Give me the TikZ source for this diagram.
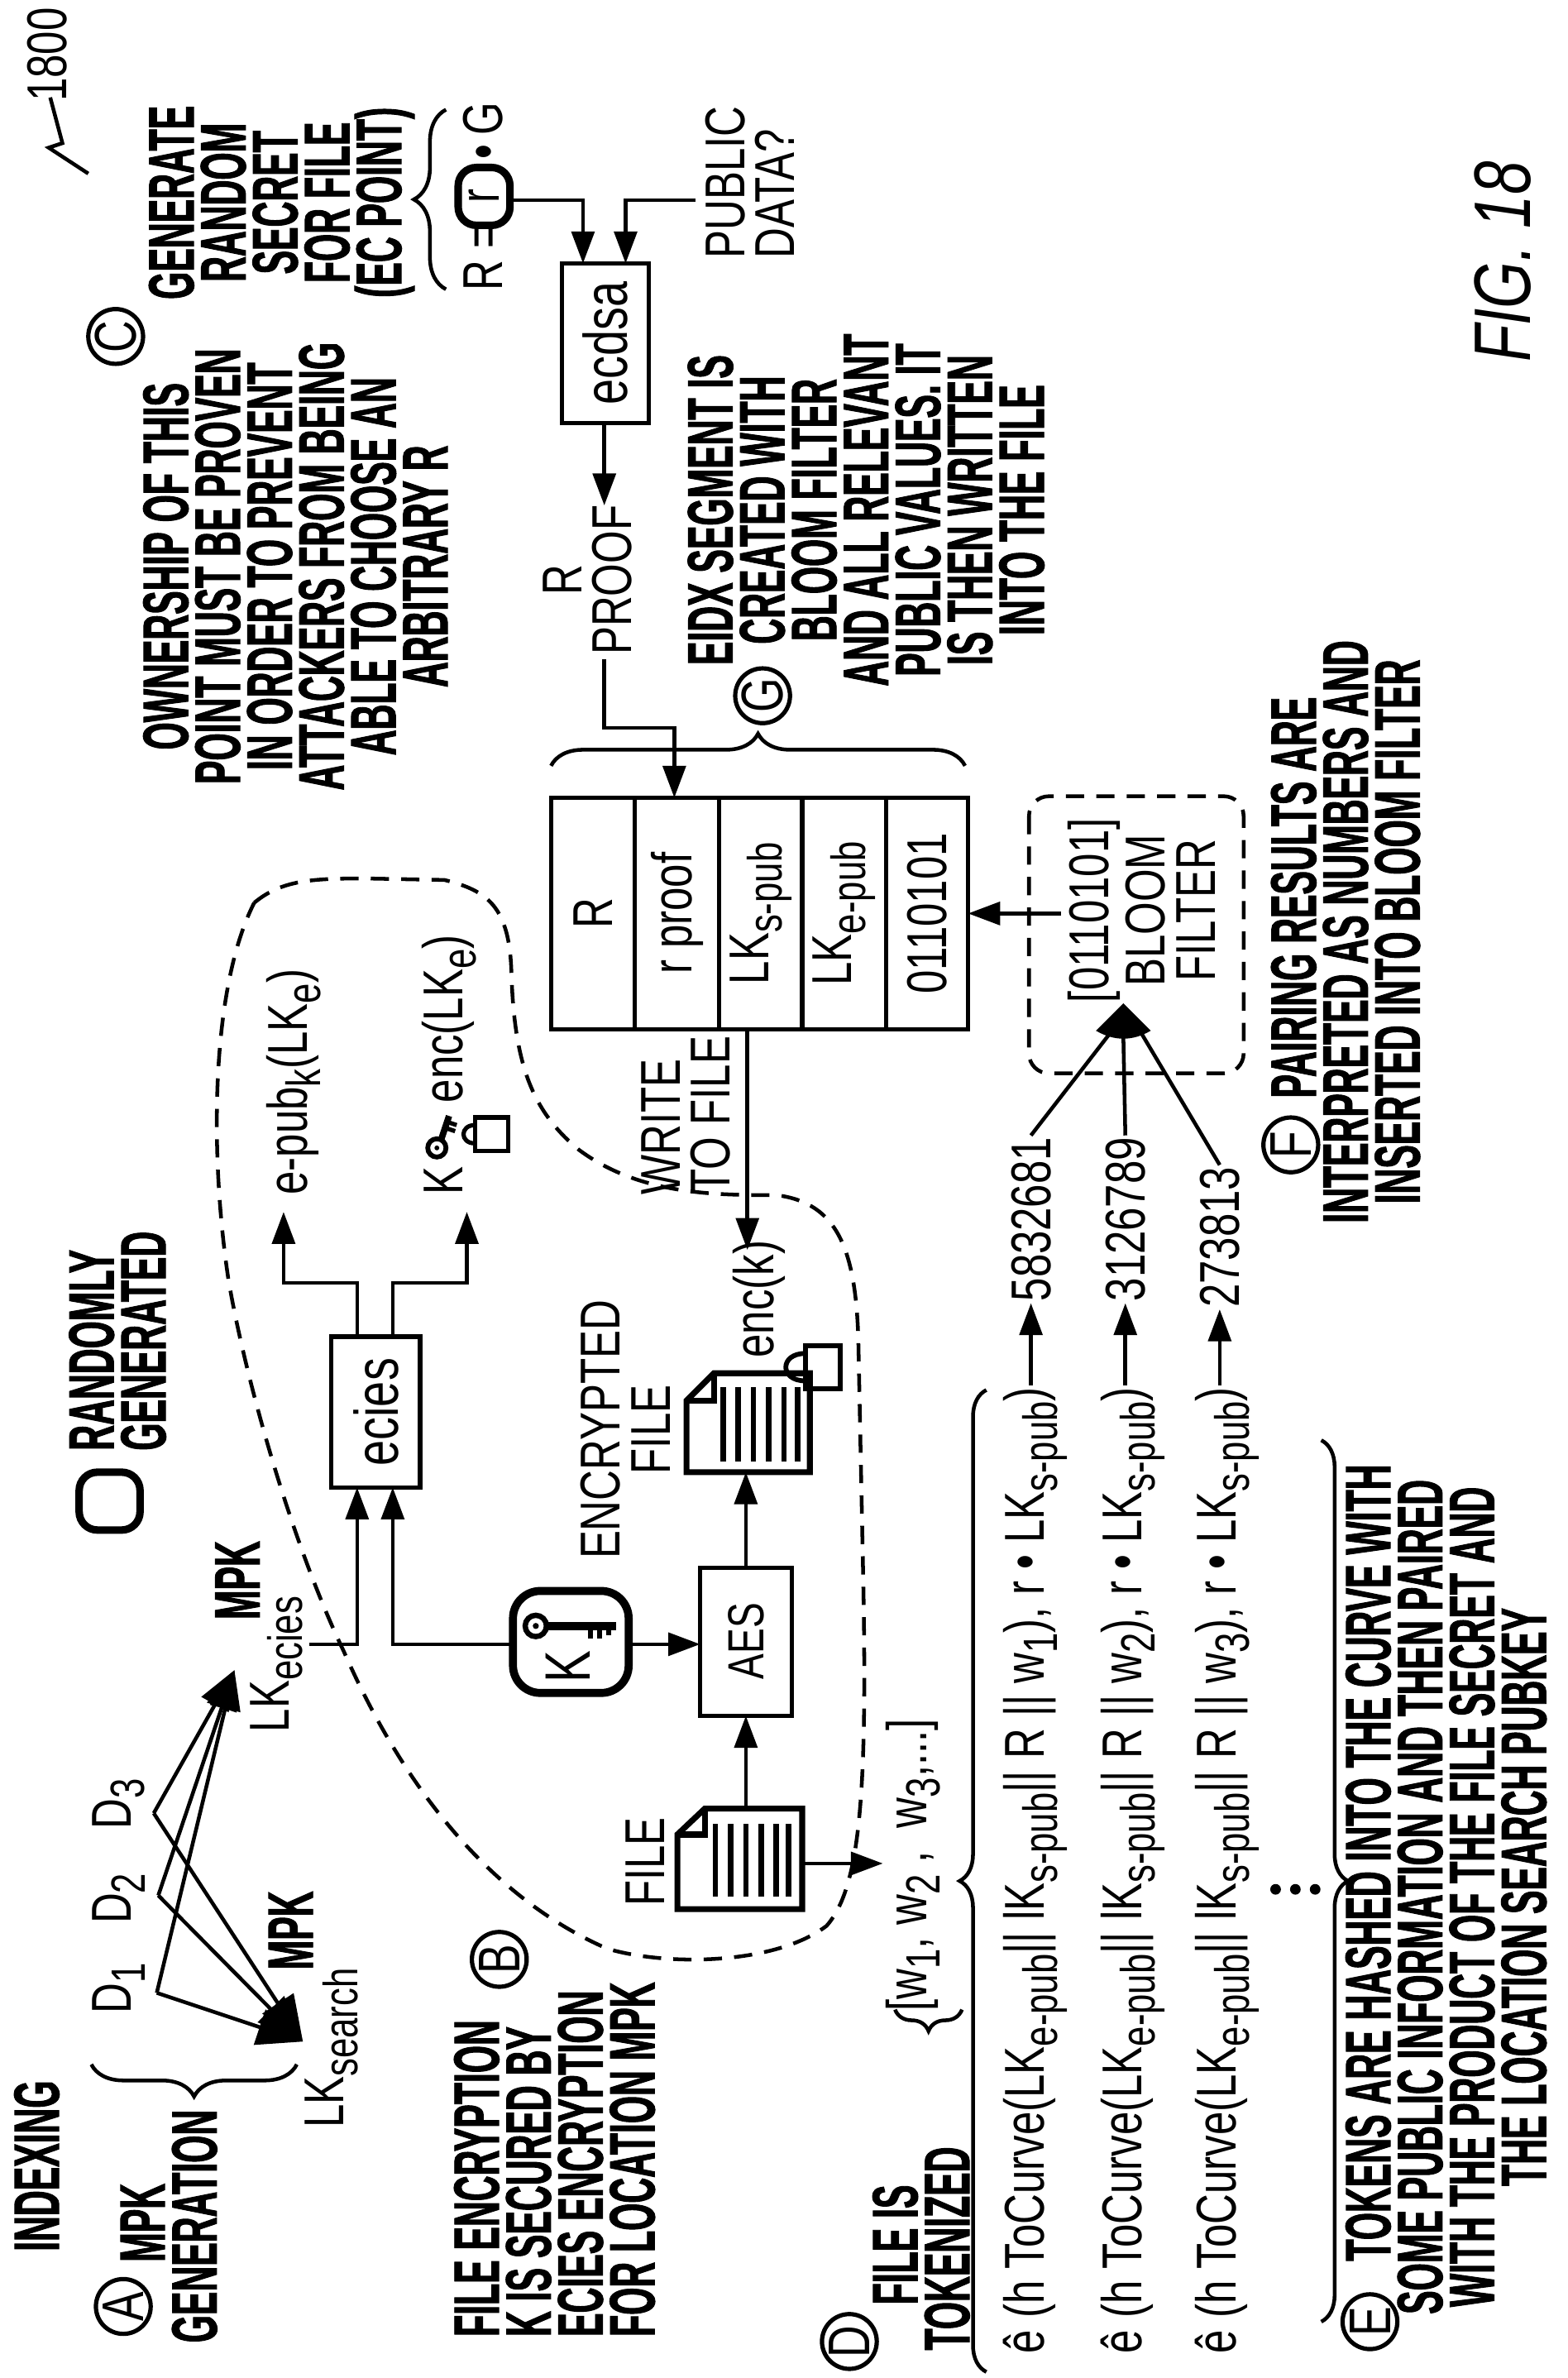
\documentclass[tikz,border=0pt]{standalone}
\usepackage{fontspec}
\setmainfont{Liberation Sans}
\newfontfamily\rf{Liberation Sans}[FakeStretch=0.75]
\newfontfamily\bc{Liberation Sans}[FakeStretch=0.55,BoldFeatures={FakeBold=1.2}]
\newcommand\sbs[1]{\raisebox{-0.45ex}{\fontsize{9}{9}\selectfont #1}}
\usetikzlibrary{arrows.meta,decorations.pathreplacing}
\begin{document}
\begin{tikzpicture}[x=0.1mm,y=-0.1mm,line width=0.7pt,
  lab/.style={rotate=90,inner sep=0pt,font=\bc\bfseries\fontsize{12}{9.7}\selectfont},
  txt/.style={rotate=90,inner sep=0pt,font=\rf\fontsize{10.5}{9.4}\selectfont},
  ftxt/.style={rotate=90,inner sep=0pt,font=\rf\fontsize{10.5}{9.4}\selectfont},
  circ/.style={draw,circle,line width=0.8pt,inner sep=0pt,minimum size=3.6mm,rotate=90,font=\rf\fontsize{11}{11}\selectfont},
  arr/.style={-{Triangle[length=2.1mm,width=1.5mm]}},
  dsh/.style={dash pattern=on 1.2mm off 0.8mm},
  br/.style={decorate,decoration={brace,amplitude=#1}},
  box/.style={line width=0.8pt},
  thick box/.style={line width=1.5pt}]
\useasboundingbox (0,0) rectangle (1030,1562);

% ---------- 1800 and FIG. 18
\node[txt] (n1800) at (31,36) {1800};
\draw (58,114) -- (32,97) -- (41,94) -- (33,64);
\node[rotate=90,inner sep=0pt,font=\rf\itshape\fontsize{15}{15}\selectfont] (fig) at (987,172) {FIG. 18};

% ---------- MPK generation
\node[lab,anchor=north west] (idx) at (8,1480) {INDEXING};
\node[circ] (cA) at (81,1515) {A};
\node[lab,anchor=north west,align=left] (mpkgen) at (78,1540) {\hspace*{5.3mm}MPK\\GENERATION};
\draw[br=6pt] (195,1356) -- (60,1356);
\node[txt] (d1) at (78,1306) {D\sbs{1}};
\node[txt] (d2) at (78,1247) {D\sbs{2}};
\node[txt] (d3) at (78,1185) {D\sbs{3}};
\coordinate (v1) at (103,1309);
\coordinate (v2) at (104,1245);
\coordinate (v3) at (101,1191);
\coordinate (s) at (199,1341);
\coordinate (e) at (154,1097);
\foreach \v in {v1,v2,v3} {
  \draw[-{Triangle[length=3mm,width=2.4mm]}] (\v) -- (s);
  \draw[-{Triangle[length=2.6mm,width=2mm]}] (\v) -- (e);
}
\node[lab] (mpks) at (191,1268) {MPK};
\node[txt,anchor=base west] (lks) at (226,1399) {LK\sbs{search}};
\node[lab] (mpke) at (156,1038) {MPK};
\node[txt,anchor=base west] (lke) at (190,1139) {LK\sbs{ecies}};

% ---------- randomly generated
\node[lab,anchor=north west,align=left] (rg) at (44,954) {RANDOMLY\\GENERATED};
\draw[line width=1.4pt,rounded corners=1.2mm] (52,967) rectangle (92,1005);

% ---------- B text
\node[lab,anchor=north west,align=left] (btext) at (297,1536) {FILE ENCRYPTION\\K IS SECURED BY\\ECIES ENCRYPTION\\FOR LOCATION MPK};
\node[circ] (cB) at (328,1287) {B};

% ---------- dashed boundary
\draw[dsh] (167,593) .. controls (185,578) and (205,577) .. (240,577)
  -- (292,578) .. controls (320,585) and (335,595) .. (336,640)
  .. controls (338,700) and (350,730) .. (380,755)
  .. controls (420,785) and (470,785) .. (510,785)
  .. controls (550,790) and (563,820) .. (564,886)
  -- (567,1032) .. controls (570,1180) and (565,1240) .. (543,1265)
  .. controls (510,1290) and (440,1292) .. (399,1280)
  .. controls (330,1250) and (270,1185) .. (226,1085)
  .. controls (190,1010) and (160,900) .. (150,840)
  .. controls (138,760) and (138,650) .. (167,593);

% ---------- FILE doc
\node[txt] (filelab) at (424,1223) {FILE};
\draw[line width=1.1pt] (463,1188) -- (527,1188) -- (527,1254) -- (445,1254) -- (445,1205) -- cycle;
\draw[line width=1.1pt] (445,1205) -- (463,1205) -- (463,1188);
\foreach \x in {470,480,490,500,510,518} \draw[line width=1pt] (\x,1198) -- (\x,1246);

% ---------- AES
\draw[box] (460,1030) rectangle (520,1127);
\node[rotate=90,inner sep=0pt,font=\rf\fontsize{9.5}{9.5}\selectfont] (aes) at (490,1078) {AES};
\draw[arr] (490,1188) -- (490,1127);
\draw[arr] (490,1030) -- (490,967);

% ---------- K box
\draw[thick box,rounded corners=1.8mm] (337,1045) rectangle (413,1112);
\node[txt,font=\rf\fontsize{12}{12}\selectfont] (kk) at (373,1095) {K};
\draw[line width=1pt] (352,1068) circle (7);
\fill (352,1068) circle (2);
\draw[line width=1.6pt] (359,1068) -- (405,1068);
\draw[line width=1pt] (388,1068) -- (388,1076) (394,1068) -- (394,1076) (400,1068) -- (400,1074);
\draw[arr] (413,1080) -- (460,1080);
\draw[arr] (337,1080) -- (258,1080) -- (258,977);
\draw[arr] (203,1080) -- (234.6,1080) -- (234.6,977);

% ---------- ecies
\draw[box] (217.5,878) rectangle (276,977);
\node[txt,font=\rf\fontsize{11.5}{11.5}\selectfont] (ecies) at (247,927.5) {ecies};
\draw[arr] (234.6,878) -- (234.6,842.6) -- (186.3,842.6) -- (186.3,796);
\draw[arr] (258,878) -- (258,842.6) -- (306.7,842.6) -- (306.7,796);
\node[txt,anchor=base west] (epub) at (202,786) {e-pub\sbs{k}(LK\sbs{e})};
\node[txt,anchor=base west] (kenc) at (304,786) {K\kern4.2mm enc(LK\sbs{e})};
\draw[line width=0.9pt] (287,754) circle (6);
\fill (287,754) circle (1.6);
\draw[line width=1.2pt] (290,748) -- (295,733);
\draw[line width=0.8pt] (293,741) -- (299,743) (294,737) -- (300,739);
\draw[line width=0.8pt] (312,734) rectangle (334,756);
\draw[line width=0.8pt] (312,739) .. controls (302,739) and (302,751) .. (312,751);

% ---------- encrypted file
\node[txt,align=center] (encf) at (411,939) {ENCRYPTED\\FILE};
\draw[line width=1.1pt] (469,902) -- (532,902) -- (532,967) -- (451,967) -- (451,920) -- cycle;
\draw[line width=1.1pt] (451,920) -- (469,920) -- (469,902);
\foreach \x in {475,485,495,505,515,524} \draw[line width=1pt] (\x,911) -- (\x,960);
\draw[line width=0.9pt] (529,884) rectangle (552,912);
\draw[line width=0.9pt] (529,889) .. controls (512,889) and (512,907) .. (529,907);
\node[txt,anchor=base west] (enck) at (508,893) {enc(k)};

% ---------- table
\draw[box] (362,524) rectangle (636,676);
\foreach \x in {417,472.5,527,582} \draw[box] (\x,524) -- (\x,676);
\node[txt] (tR) at (389.5,600) {R};
\node[txt] (tr) at (444.75,600) {r proof};
\node[txt] (ts) at (499.75,600) {LK\sbs{s-pub}};
\node[txt] (te) at (554.5,600) {LK\sbs{e-pub}};
\node[txt] (tb) at (609,600) {0110101};
\draw[arr] (491,676) -- (491,821);
\node[txt,anchor=north west,align=left] (wtf) at (420,786) {WRITE\\TO FILE};
\draw[br=6pt] (362,503) -- (634,503);
\node[circ] (cG) at (501,457) {G};
\node[lab,align=center] (eidx) at (569,335) {EIDX SEGMENT IS\\CREATED WITH\\BLOOM FILTER\\AND ALL RELEVANT\\PUBLIC VALUES. IT\\IS THEN WRITTEN\\INTO THE FILE};

% ---------- ecdsa
\node[txt,anchor=base west] (req) at (330,192) {R =};
\draw[line width=1.4pt,rounded corners=1.2mm] (301,110) rectangle (335,148);
\node[txt] (rr) at (318,129) {r};
\node[txt,anchor=base west] (dotg) at (330,106) {•\,G};
\draw[br=6pt] (293,190) -- (293,72);
\draw[box] (369,173) rectangle (426,278);
\node[txt,font=\rf\fontsize{11.5}{11.5}\selectfont] (ecdsa) at (397.5,225.5) {ecdsa};
\draw[arr] (336,131.5) -- (383,131.5) -- (383,173);
\node[txt,anchor=north west,align=left] (pub) at (462,171) {PUBLIC\\DATA?};
\draw[arr] (457,131.5) -- (411,131.5) -- (411,173);
\draw[arr] (397,278) -- (397,332);
\node[txt,align=center] (rproof) at (386,381) {R\\PROOF};
\draw[arr] (397,433) -- (397,478) -- (443,478) -- (443,524);

% ---------- C text
\node[circ] (cC) at (76,221) {C};
\node[lab,align=center] (gen) at (185,133) {GENERATE\\RANDOM\\SECRET\\FOR FILE\\(EC POINT)};
\node[lab,align=center] (own) at (194,372) {OWNERSHIP OF THIS\\POINT MUST BE PROVEN\\IN ORDER TO PREVENT\\ATTACKERS FROM BEING\\ABLE TO CHOOSE AN\\ARBITRARY R};

% ---------- bloom filter
\draw[dsh,rounded corners=1.3mm] (676,523) rectangle (817,705);
\node[txt,align=center] (bloom) at (750,598) {[0110101]\\BLOOM\\FILTER};
\draw[arr] (697,600) -- (636,600);
\fill (738,659) -- (720,677) .. controls (732,684) and (744,684) .. (756,677) -- cycle;
\node[circ] (cF) at (848,752) {F};
\node[lab,align=center] (ftext) at (884,612) {\hspace*{4.5mm}PAIRING RESULTS ARE\\INTERPRETED AS NUMBERS AND\\INSERTED INTO BLOOM FILTER};

% ---------- tokenize
\node[circ] (cD) at (558,1538) {D};
\node[lab,anchor=north west,align=left] (dtext) at (572,1545) {\hspace*{3mm}FILE IS\\TOKENIZED};
\draw[br=4pt] (632,1320) -- (588,1320);
\node[txt] (words) at (600,1225) {[w\sbs{1}, w\sbs{2} ,\ \ w\sbs{3},...]};
\draw[arr] (527,1224) -- (580,1224);
\draw[br=5pt] (648,1558) -- (648,913);
\node[ftxt,anchor=base west] (f1) at (686,1547) {ê (h ToCurve(LK\sbs{e-pub}|| lK\sbs{s-pub}|| R || w\sbs{1}), r • LK\sbs{s-pub})};
\node[ftxt,anchor=base west] (f2) at (750,1547) {ê (h ToCurve(LK\sbs{e-pub}|| lK\sbs{s-pub}|| R || w\sbs{2}), r • LK\sbs{s-pub})};
\node[ftxt,anchor=base west] (f3) at (812,1547) {ê (h ToCurve(LK\sbs{e-pub}|| lK\sbs{s-pub}|| R || w\sbs{3}), r • LK\sbs{s-pub})};
\node[txt,anchor=base west] (n1) at (690,856) {5832681};
\node[txt,anchor=base west] (n2) at (752,856) {3126789};
\node[txt,anchor=base west] (n3) at (814,860) {273813};
\draw[arr] (f1.east -| n1.center) -- (n1.west);
\draw[arr] (f2.east -| n2.center) -- (n2.west);
\draw[arr] (f3.east -| n3.center) -- (n3.west);
\draw (n1.east) -- (729,679);
\draw (n2.east) -- (738,681);
\draw (n3.east) -- (750,679);
\foreach \x in {838,851,864} \fill (\x,1241) circle (3.5);
\draw[br=5pt] (868,946) -- (868,1525);
\node[circ] (cE) at (900,1525) {E};
\node[lab,align=center] (etext) at (950,1246) {\hspace*{4.5mm}TOKENS ARE HASHED INTO THE CURVE WITH\\SOME PUBLIC INFORMATION AND THEN PAIRED\\WITH THE PRODUCT OF THE FILE SECRET AND\\THE LOCATION SEARCH PUBKEY};
\end{tikzpicture}
\end{document}
